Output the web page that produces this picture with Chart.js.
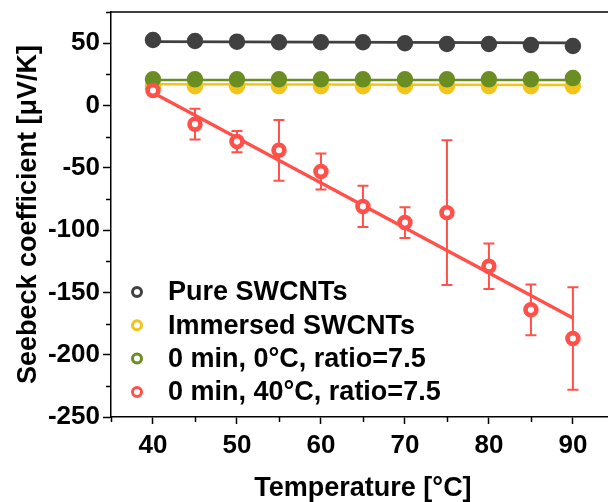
<!DOCTYPE html>
<html>
<head>
<meta charset="utf-8">
<script src="https://cdn.jsdelivr.net/npm/chart.js@4"></script>
<style>
  html, body { margin: 0; padding: 0; background: #fff; overflow: hidden; }
  #wrap { width: 625px; height: 502px; }
</style>
</head>
<body>
<div id="wrap"><canvas id="chartCanvas" width="625" height="502"></canvas></div>
<script>
// temperatures (°C)
const temps = [40, 45, 50, 55, 60, 65, 70, 75, 80, 85, 90];

// Seebeck coefficient, µV/K
const pureSWCNTs     = [52.5, 51.7, 51.2, 50.7, 50.7, 50.7, 49.9, 49.3, 49.3, 48.5, 47.7];
const immersedSWCNTs = [15.5, 15.5, 15.5, 15.5, 15.5, 15.5, 15.5, 15.5, 15.5, 15.5, 15.5];
const ratio0C        = [21, 21, 21, 21, 21, 21, 21, 21, 21, 21, 22];
const ratio40C       = [12, -15, -29, -36, -53, -81, -94, -86, -129, -164, -187];
const ratio40CErr    = [3, 12.4, 8.5, 24.4, 14.5, 16.5, 12.4, 58, 18.3, 20.3, 41.2];

// linear fit end points
const fitTemps  = [40, 90];
const pureFit   = [51.3, 50.2];
const immFit    = [17, 16.5];
const r0Fit     = [20.4, 20.4];
const r40Fit    = [10.2, -170.5];

const labels = ['Pure SWCNTs', 'Immersed SWCNTs', '0 min, 0°C, ratio=7.5', '0 min, 40°C, ratio=7.5'];
const colors = ['#404040', '#f2c41c', '#6b8e23', '#ff5049'];

const FONT = "'Liberation Sans', Arial, sans-serif";
Chart.defaults.font.family = FONT;
Chart.defaults.color = '#000';

function pts(xs, ys) {
    return xs.map((x, i) => ({ x: x, y: ys[i] }));
}

function markerSet(label, vals, color, order, red) {
    return {
        label: label,
        data: pts(temps, vals),
        showLine: false,
        pointStyle: 'circle',
        pointRadius: red ? 5.4 : 6.5,
        pointBorderWidth: red ? 4.7 : 3.5,
        pointBorderColor: color,
        pointBackgroundColor: red ? '#fff' : color,
        order: order
    };
}

function fitSet(vals, color, width, order) {
    return {
        label: 'fit',
        data: pts(fitTemps, vals),
        borderColor: color,
        borderWidth: width,
        pointRadius: 0,
        fill: false,
        order: order
    };
}

// error bars for the red series, under the markers
const errorBars = {
    id: 'errorBars',
    beforeDatasetsDraw(chart) {
        const { ctx, scales: { x, y } } = chart;
        ctx.save();
        ctx.strokeStyle = colors[3];
        ctx.lineWidth = 2;
        temps.forEach((t, i) => {
            const px = x.getPixelForValue(t);
            const top = y.getPixelForValue(ratio40C[i] + ratio40CErr[i]);
            const bot = y.getPixelForValue(ratio40C[i] - ratio40CErr[i]);
            ctx.beginPath();
            ctx.moveTo(px, top); ctx.lineTo(px, bot);
            ctx.moveTo(px - 5.5, top); ctx.lineTo(px + 5.5, top);
            ctx.moveTo(px - 5.5, bot); ctx.lineTo(px + 5.5, bot);
            ctx.stroke();
        });
        ctx.restore();
    }
};

// top frame line, short minor ticks, legend inside the plot
const frameAndLegend = {
    id: 'frameAndLegend',
    afterDraw(chart) {
        const { ctx, chartArea: a, scales: { x, y } } = chart;
        ctx.save();
        ctx.strokeStyle = '#000';
        ctx.lineWidth = 1.5;
        ctx.beginPath();
        ctx.moveTo(a.left, a.top);
        ctx.lineTo(a.right, a.top);
        y.ticks.forEach(tk => {
            if (tk.value % 50 !== 0) {
                const py = Math.round(y.getPixelForValue(tk.value)) + 0.5;
                ctx.moveTo(a.left, py); ctx.lineTo(a.left - 5, py);
            }
        });
        x.ticks.forEach(tk => {
            if (tk.value % 10 !== 0) {
                const px = Math.round(x.getPixelForValue(tk.value)) + 0.5;
                ctx.moveTo(px, a.bottom); ctx.lineTo(px, a.bottom + 5);
            }
        });
        ctx.stroke();

        // legend
        ctx.font = 'bold 27px ' + FONT;
        ctx.textBaseline = 'middle';
        ctx.textAlign = 'left';
        labels.forEach((lab, i) => {
            const cy = a.bottom - 125 + i * 33.3;
            ctx.beginPath();
            ctx.arc(a.left + 26, cy, 4.5, 0, Math.PI * 2);
            ctx.lineWidth = 3;
            ctx.strokeStyle = colors[i];
            ctx.fillStyle = '#fff';
            ctx.fill();
            ctx.stroke();
            ctx.fillStyle = '#000';
            ctx.fillText(lab, a.left + 57, cy + 1);
        });
        ctx.restore();
    }
};

const ctx = document.getElementById('chartCanvas').getContext('2d');
new Chart(ctx, {
    type: 'line',
    data: {
        datasets: [
            markerSet(labels[3], ratio40C, colors[3], 0, true),
            fitSet(r40Fit, colors[3], 3.3, 1),
            markerSet(labels[2], ratio0C, colors[2], 2, false),
            fitSet(r0Fit, colors[2], 2.5, 3),
            markerSet(labels[1], immersedSWCNTs, colors[1], 4, false),
            fitSet(immFit, colors[1], 2.5, 5),
            markerSet(labels[0], pureSWCNTs, colors[0], 6, false),
            fitSet(pureFit, colors[0], 2.7, 7)
        ]
    },
    options: {
        responsive: false,
        animation: false,
        layout: { padding: { top: 12, right: 5, left: 0, bottom: 0 } },
        plugins: {
            legend: { display: false },
            tooltip: { enabled: false }
        },
        scales: {
            x: {
                type: 'linear',
                min: 35,
                max: 95,
                afterFit: (s) => { s.height = 85; s.paddingLeft = 0; s.paddingRight = 0; },
                ticks: {
                    stepSize: 5,
                    autoSkip: false,
                    maxRotation: 0,
                    padding: 6,
                    font: { size: 26, weight: 'bold' },
                    callback: (v) => (v % 10 === 0 ? v : '')
                },
                grid: {
                    drawOnChartArea: false,
                    tickLength: 7,
                    tickWidth: 1.5,
                    tickColor: (c) => (c.tick && c.tick.value % 10 === 0 ? '#000' : 'rgba(0,0,0,0)')
                },
                border: { color: '#000', width: 1.5 },
                title: {
                    display: true,
                    text: 'Temperature [°C]',
                    font: { size: 27, weight: 'bold', lineHeight: 1.0 },
                    padding: { top: 0, bottom: 0 }
                }
            },
            y: {
                min: -250,
                max: 75,
                afterFit: (s) => { s.width = 111; s.paddingTop = 0; s.paddingBottom = 0; },
                ticks: {
                    stepSize: 25,
                    autoSkip: false,
                    padding: 3,
                    font: { size: 26, weight: 'bold' },
                    callback: (v) => (v % 50 === 0 ? v : '')
                },
                grid: {
                    drawOnChartArea: false,
                    tickLength: 8,
                    tickWidth: 1.5,
                    tickColor: (c) => (c.tick && c.tick.value % 50 === 0 ? '#000' : 'rgba(0,0,0,0)')
                },
                border: { color: '#000', width: 1.5 },
                title: {
                    display: true,
                    text: 'Seebeck coefficient [μV/K]',
                    font: { size: 27, weight: 'bold' },
                    padding: { top: 12, bottom: 0 }
                }
            }
        }
    },
    plugins: [errorBars, frameAndLegend]
});
</script>
</body>
</html>
